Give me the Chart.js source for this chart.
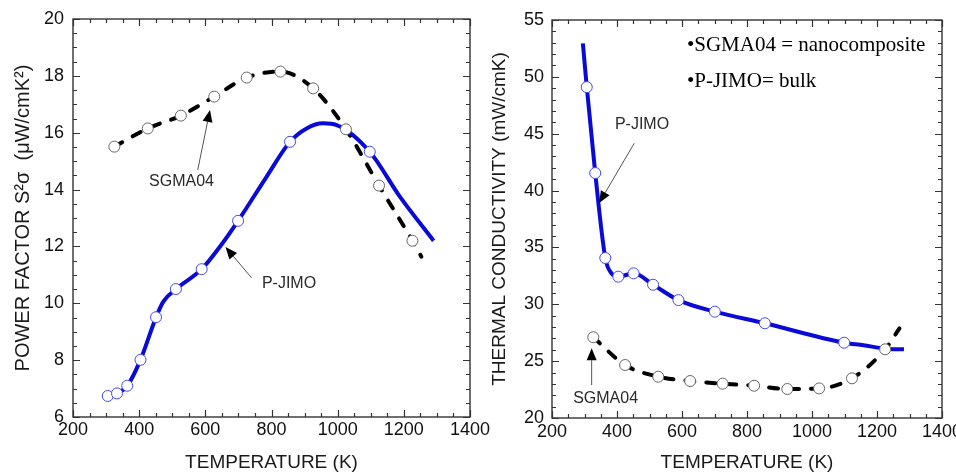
<!DOCTYPE html>
<html>
<head>
<meta charset="utf-8">
<script src="https://cdn.jsdelivr.net/npm/chart.js@4.4.1/dist/chart.umd.min.js"></script>
<style>
  html, body { margin: 0; padding: 0; background: #fff; }
  body { width: 956px; height: 475px; position: relative; overflow: hidden; }
  .panel { position: absolute; top: 0; height: 475px; }
  #leftPanel { left: 0; width: 500px; }
  #rightPanel { left: 480px; width: 476px; }
</style>
</head>
<body>
<div class="panel" id="leftPanel"><canvas id="pfChart"></canvas></div>
<div class="panel" id="rightPanel"><canvas id="tcChart"></canvas></div>
<script>
// ============================================================
// Data
// ============================================================
const tempTicks = [200, 400, 600, 800, 1000, 1200, 1400];
const pfTicks = [6, 8, 10, 12, 14, 16, 18, 20];
const tcTicks = [20, 25, 30, 35, 40, 45, 50, 55];

// --- Power factor (left panel) ---
const pjimoPfT = [305, 333, 364, 404, 451, 511, 589, 699, 856, 1097];
const pjimoPfV = [6.74, 6.83, 7.10, 8.01, 9.51, 10.50, 11.20, 12.90, 15.68, 15.33];
const pjimoPfCurveT = [305, 333, 364, 404, 451, 473, 511, 589, 644, 699, 785, 856, 906, 956, 997, 1097, 1188, 1290];
const pjimoPfCurveV = [6.74, 6.83, 7.10, 8.01, 9.51, 10.06, 10.50, 11.20, 11.99, 12.90, 14.45, 15.68, 16.15, 16.33, 16.27, 15.33, 13.75, 12.20];

const sgmaPfT = [325, 426, 526, 627, 725, 827, 926, 1025, 1125, 1226];
const sgmaPfV = [15.51, 16.15, 16.60, 17.27, 17.94, 18.15, 17.56, 16.12, 14.14, 12.20];
const sgmaPfCurveT = [325, 426, 526, 627, 725, 827, 926, 1025, 1125, 1226, 1253];
const sgmaPfCurveV = [15.51, 16.15, 16.60, 17.27, 17.94, 18.15, 17.56, 16.12, 14.14, 12.20, 11.64];

// --- Thermal conductivity (right panel) ---
const pjimoTcT = [307, 333, 364, 404, 451, 511, 589, 701, 855, 1099];
const pjimoTcV = [49.10, 41.54, 34.07, 32.43, 32.72, 31.72, 30.37, 29.35, 28.33, 26.62];
const pjimoTcCurveT = [295, 307, 333, 364, 383, 404, 451, 511, 589, 701, 855, 1099, 1158, 1225, 1283];
const pjimoTcCurveV = [52.95, 49.10, 41.54, 34.07, 32.72, 32.43, 32.72, 31.72, 30.37, 29.35, 28.33, 26.62, 26.40, 26.10, 26.04];

const sgmaTcT = [327, 425, 527, 625, 725, 822, 924, 1022, 1123, 1225];
const sgmaTcV = [27.10, 24.66, 23.63, 23.25, 23.02, 22.84, 22.55, 22.60, 23.49, 26.04];
const sgmaTcCurveT = [327, 425, 527, 625, 725, 822, 924, 1022, 1123, 1225, 1269];
const sgmaTcCurveV = [27.10, 24.66, 23.63, 23.25, 23.02, 22.84, 22.55, 22.60, 23.49, 26.04, 27.88];

// ============================================================
// Styles
// ============================================================
const SANS = "'Liberation Sans', Arial, sans-serif";
const SERIF = "'Liberation Serif', 'Times New Roman', serif";
const BLUE = "#0a0ad8";
const BLUE_MARK = "#4a4ae8";
const GRAY_MARK = "#666";

const toXY = (xs, ys) => xs.map((x, i) => ({ x, y: ys[i] }));

function curveSet(xs, ys, color, dashed) {
  return {
    data: toXY(xs, ys),
    showLine: true,
    borderColor: color,
    borderWidth: 4,
    borderDash: dashed ? [9, 12] : [],
    borderCapStyle: dashed ? "round" : "butt",
    pointRadius: 0,
    cubicInterpolationMode: "monotone",
    order: 3,
  };
}

function markSet(xs, ys, edge) {
  return {
    data: toXY(xs, ys),
    showLine: false,
    pointRadius: 5.5,
    pointBackgroundColor: "#fff",
    pointBorderColor: edge,
    pointBorderWidth: 1,
    order: 1,
  };
}

function xAxis(height, pad) {
  return {
    type: "linear",
    min: 200,
    max: 1400,
    afterBuildTicks: (s) => { s.ticks = tempTicks.map((v) => ({ value: v })); },
    grid: { display: false, drawTicks: false },
    border: { display: false },
    ticks: {
      color: "#111", font: { family: SANS, size: 18 }, padding: pad,
      maxRotation: 0, autoSkip: false, callback: (v) => String(v),
    },
    title: { display: true, text: "TEMPERATURE (K)", color: "#1a1a1a", font: { family: SANS, size: 19 }, padding: { top: 0, bottom: 1 } },
    afterFit: (s) => { s.height = height; s.paddingLeft = 0; s.paddingRight = 0; },
  };
}

function yAxis(min, max, ticks, title, titleSize, width, pad, titlePad) {
  return {
    type: "linear",
    min,
    max,
    afterBuildTicks: (s) => { s.ticks = ticks.map((v) => ({ value: v })); },
    grid: { display: false, drawTicks: false },
    border: { display: false },
    ticks: { color: "#111", font: { family: SANS, size: 18 }, padding: pad, autoSkip: false, callback: (v) => String(v) },
    title: { display: true, text: title, color: "#1a1a1a", font: { family: SANS, size: titleSize }, padding: { top: titlePad, bottom: 0 } },
    afterFit: (s) => { s.width = width; s.paddingTop = 0; s.paddingBottom = 0; },
  };
}

/* ============================================================
   Frame + inward ticks + text notes (drawn through the scales)
============================================================ */
function decor(minorX, minorY, majorY, notes) {
  return {
    id: "decor",
    afterDraw(chart) {
      const { ctx, chartArea: a, scales: { x, y } } = chart;
      ctx.save();
      ctx.strokeStyle = "#333";
      ctx.lineWidth = 1.4;
      ctx.strokeRect(a.left, a.top, a.right - a.left, a.bottom - a.top);

      ctx.lineWidth = 1.2;
      ctx.beginPath();
      for (let v = x.min; v <= x.max + 1e-6; v += minorX) {
        const px = Math.round(x.getPixelForValue(v)) + 0.5;
        const len = tempTicks.includes(v) ? 7 : 4;
        ctx.moveTo(px, a.bottom); ctx.lineTo(px, a.bottom - len);
        ctx.moveTo(px, a.top); ctx.lineTo(px, a.top + len);
      }
      for (let v = y.min; v <= y.max + 1e-6; v += minorY) {
        const py = Math.round(y.getPixelForValue(v)) + 0.5;
        const len = Math.abs(v / majorY - Math.round(v / majorY)) < 1e-6 ? 7 : 4;
        ctx.moveTo(a.left, py); ctx.lineTo(a.left + len, py);
        ctx.moveTo(a.right, py); ctx.lineTo(a.right - len, py);
      }
      ctx.stroke();

      notes.forEach((n) => {
        if (n.text) {
          ctx.fillStyle = n.color || "#2a2a2a";
          ctx.font = n.font;
          ctx.textAlign = n.align || "center";
          ctx.textBaseline = "middle";
          ctx.fillText(n.text, x.getPixelForValue(n.x), y.getPixelForValue(n.y));
        } else if (n.from) {
          const x0 = x.getPixelForValue(n.from[0]), y0 = y.getPixelForValue(n.from[1]);
          const x1 = x.getPixelForValue(n.to[0]), y1 = y.getPixelForValue(n.to[1]);
          const ang = Math.atan2(y1 - y0, x1 - x0);
          const head = 12, half = 5;
          ctx.strokeStyle = n.color || "#555";
          ctx.lineWidth = 1;
          ctx.beginPath();
          ctx.moveTo(x0, y0);
          ctx.lineTo(x1 - head * Math.cos(ang), y1 - head * Math.sin(ang));
          ctx.stroke();
          ctx.fillStyle = "#000";
          ctx.beginPath();
          ctx.moveTo(x1, y1);
          ctx.lineTo(x1 - head * Math.cos(ang) + half * Math.sin(ang), y1 - head * Math.sin(ang) - half * Math.cos(ang));
          ctx.lineTo(x1 - head * Math.cos(ang) - half * Math.sin(ang), y1 - head * Math.sin(ang) + half * Math.cos(ang));
          ctx.closePath();
          ctx.fill();
        }
      });
      ctx.restore();
    },
  };
}

const commonOpts = {
  responsive: true,
  maintainAspectRatio: false,
  animation: false,
  events: [],
  plugins: { legend: { display: false }, tooltip: { enabled: false } },
};

// ============================================================
// Left: power factor
// ============================================================
new Chart(document.getElementById("pfChart"), {
  type: "scatter",
  data: {
    datasets: [
      curveSet(pjimoPfCurveT, pjimoPfCurveV, BLUE, false),
      curveSet(sgmaPfCurveT, sgmaPfCurveV, "#000", true),
      markSet(pjimoPfT, pjimoPfV, BLUE_MARK),
      markSet(sgmaPfT, sgmaPfV, GRAY_MARK),
    ],
  },
  options: {
    ...commonOpts,
    layout: { padding: { left: 0, top: 19, right: 30, bottom: 0 } },
    scales: {
      x: xAxis(58, 2),
      y: yAxis(6, 20, pfTicks, "POWER FACTOR S\u00B2\u03C3  (\u03BCW/cmK\u00B2)", 20, 73, 9, 11),
    },
  },
  plugins: [
    decor(50, 0.5, 2, [
      { text: "SGMA04", x: 528, y: 14.27, font: `16px ${SANS}` },
      { from: [577, 14.69], to: [614, 16.8] },
      { text: "P-JIMO", x: 853, y: 10.71, font: `16px ${SANS}` },
      { from: [740, 10.89], to: [661, 11.98] },
    ]),
  ],
});

// ============================================================
// Right: thermal conductivity
// ============================================================
new Chart(document.getElementById("tcChart"), {
  type: "scatter",
  data: {
    datasets: [
      curveSet(pjimoTcCurveT, pjimoTcCurveV, BLUE, false),
      curveSet(sgmaTcCurveT, sgmaTcCurveV, "#000", true),
      markSet(pjimoTcT, pjimoTcV, BLUE_MARK),
      markSet(sgmaTcT, sgmaTcV, GRAY_MARK),
    ],
  },
  options: {
    ...commonOpts,
    layout: { padding: { left: 0, top: 20, right: 14, bottom: 0 } },
    scales: {
      x: xAxis(57, 3),
      y: yAxis(20, 55, tcTicks, "THERMAL CONDUCTIVITY (mW/cmK)", 19, 72, 8, 8),
    },
  },
  plugins: [
    decor(50, 1, 5, [
      { text: "P-JIMO", x: 477, y: 45.77, font: `16px ${SANS}` },
      { from: [453, 44.16], to: [345, 38.9] },
      { text: "SGMA04", x: 365, y: 21.75, font: `16px ${SANS}` },
      { from: [322, 22.9], to: [322, 26.13] },
      { text: "\u2022SGMA04 = nanocomposite", x: 615, y: 52.8, align: "left", color: "#000", font: `21px ${SERIF}` },
      { text: "\u2022P-JIMO= bulk", x: 615, y: 49.55, align: "left", color: "#000", font: `21px ${SERIF}` },
    ]),
  ],
});
</script>
</body>
</html>
